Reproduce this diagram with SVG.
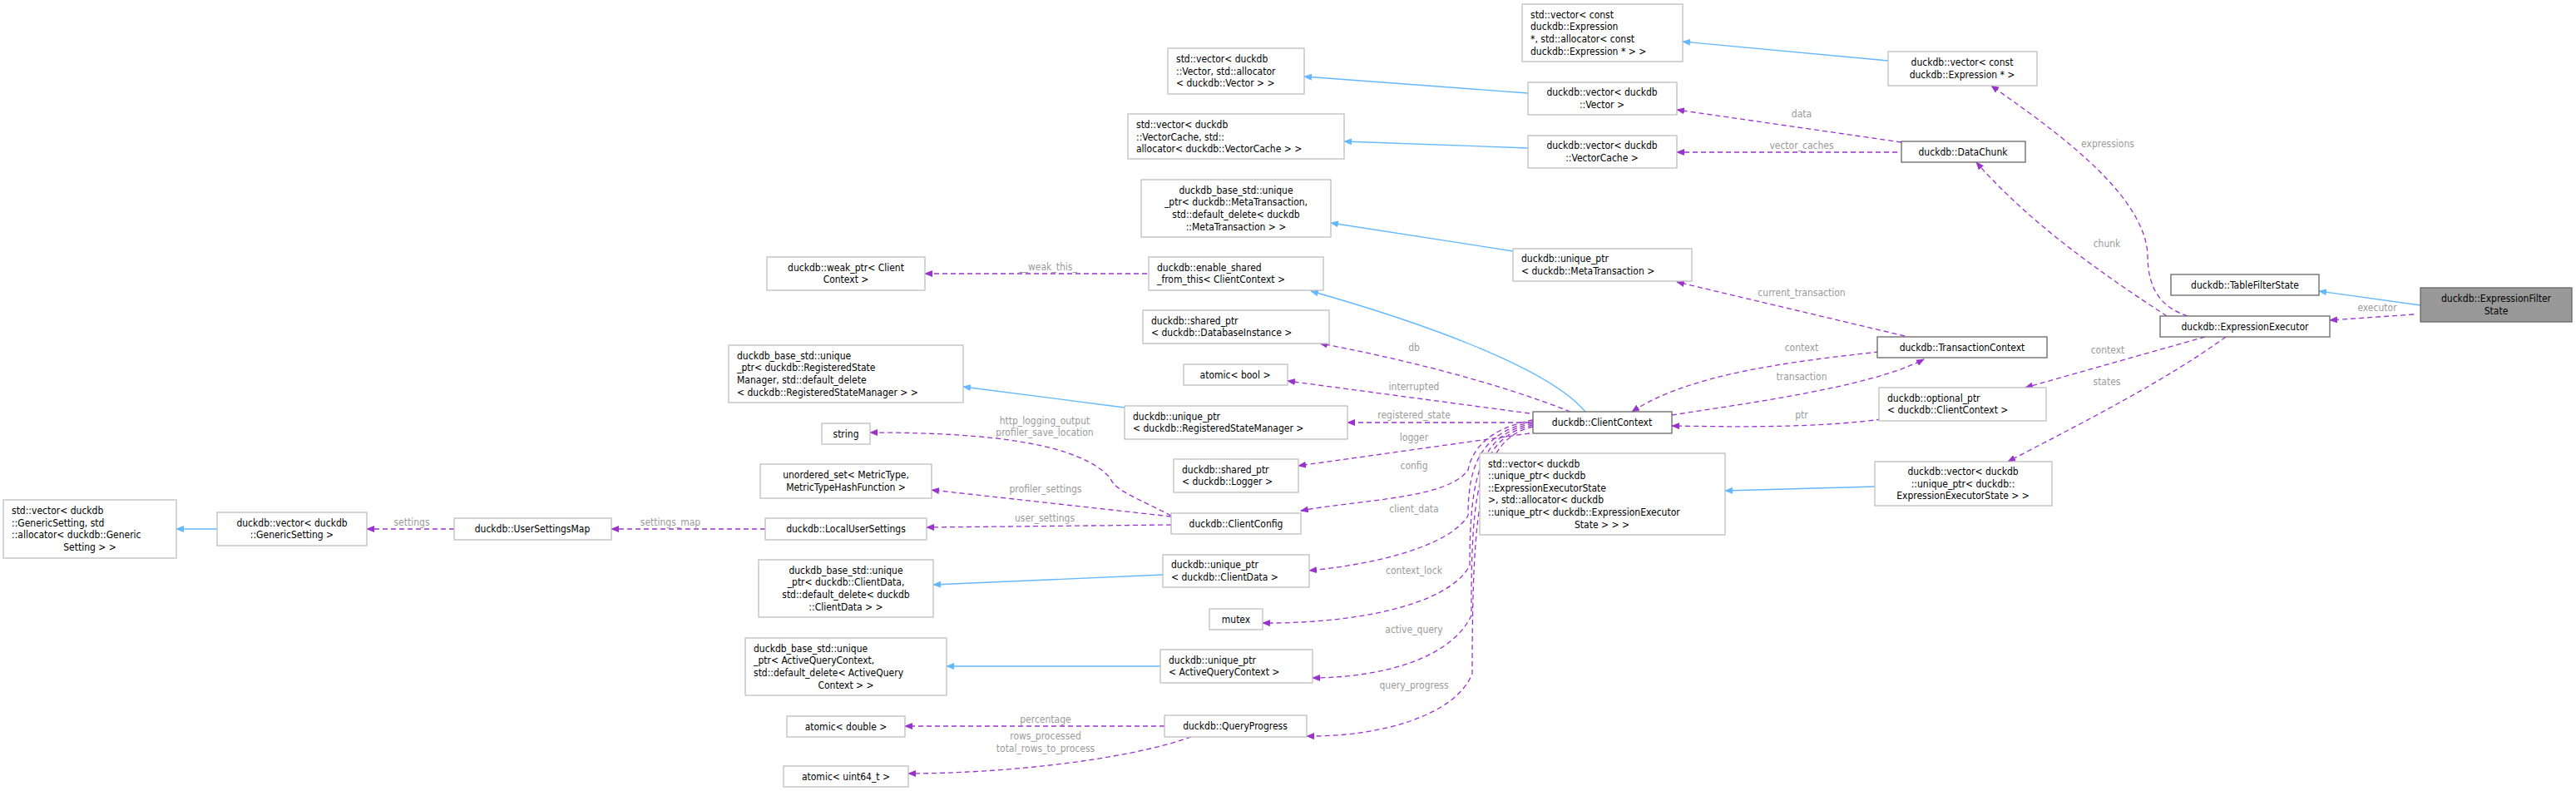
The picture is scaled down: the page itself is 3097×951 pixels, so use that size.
<svg xmlns="http://www.w3.org/2000/svg" width="3097" height="951" viewBox="0 0 3097 951">
<style>
.n rect{fill:#fff;stroke:#bfbfbf;stroke-width:1.3}
.n.d rect{stroke:#666}
.n.m rect{fill:#999;stroke:#666}
text{font-family:"DejaVu Sans Condensed","DejaVu Sans",sans-serif;font-size:12px;fill:#000}
.c{text-anchor:middle}
.e path{fill:none;stroke-width:1.3}
.i{stroke:#63b8ff}
.u{stroke:#9a32cd;stroke-dasharray:6,4}
.l{fill:#9a9a9a;text-anchor:middle}
</style>
<defs>
<marker id="ab" markerWidth="10" markerHeight="8" refX="9" refY="4" orient="auto" markerUnits="userSpaceOnUse"><path d="M0,0L10,4L0,8z" fill="#63b8ff"/></marker>
<marker id="ap" markerWidth="10" markerHeight="8" refX="9" refY="4" orient="auto" markerUnits="userSpaceOnUse"><path d="M0,0L10,4L0,8z" fill="#9a32cd"/></marker>
</defs>
<rect width="3097" height="951" fill="#fff"/>
<g class="e">
<path class="i" marker-end="url(#ab)" d="M2910,367L2788,350"/>
<path class="i" marker-end="url(#ab)" d="M2270,73L2023,50"/>
<path class="i" marker-end="url(#ab)" d="M1837,112L1568,92"/>
<path class="i" marker-end="url(#ab)" d="M1837,178L1616,170"/>
<path class="i" marker-end="url(#ab)" d="M1819,302L1600,268"/>
<path class="i" marker-end="url(#ab)" d="M1906,495C1860,440 1700,385 1576,350"/>
<path class="i" marker-end="url(#ab)" d="M1352,490L1158,465"/>
<path class="i" marker-end="url(#ab)" d="M1398,691L1122,703"/>
<path class="i" marker-end="url(#ab)" d="M1395,801L1138,801"/>
<path class="i" marker-end="url(#ab)" d="M2254,585L2074,590"/>
<path class="i" marker-end="url(#ab)" d="M261,636L212,636"/>
<path class="u" marker-end="url(#ap)" d="M2902,378L2801,385"/>
<path class="u" marker-end="url(#ap)" d="M2630,380C2600,370 2582,350 2582,306C2578,230 2460,150 2394,103"/>
<path class="u" marker-end="url(#ap)" d="M2605,380C2560,350 2450,280 2376,195"/>
<path class="u" marker-end="url(#ap)" d="M2651,405L2435,466"/>
<path class="u" marker-end="url(#ap)" d="M2676,405C2600,460 2500,510 2414,555"/>
<path class="u" marker-end="url(#ap)" d="M2286,171L2016,132"/>
<path class="u" marker-end="url(#ap)" d="M2281,183L2016,183"/>
<path class="u" marker-end="url(#ap)" d="M2290,404L2016,339"/>
<path class="u" marker-end="url(#ap)" d="M2259,423C2150,435 2030,450 1962,495"/>
<path class="u" marker-end="url(#ap)" d="M2010,499C2100,485 2250,465 2313,432"/>
<path class="u" marker-end="url(#ap)" d="M2262,504C2180,515 2080,513 2010,512"/>
<path class="u" marker-end="url(#ap)" d="M1379,329L1112,329"/>
<path class="u" marker-end="url(#ap)" d="M1888,495C1800,460 1680,430 1587,413"/>
<path class="u" marker-end="url(#ap)" d="M1839,497L1548,458"/>
<path class="u" marker-end="url(#ap)" d="M1839,508L1620,508"/>
<path class="u" marker-end="url(#ap)" d="M1839,521L1561,560"/>
<path class="u" marker-end="url(#ap)" d="M1843,505C1790,515 1770,540 1765,565C1740,600 1640,600 1564,614"/>
<path class="u" marker-end="url(#ap)" d="M1843,507C1780,520 1765,560 1765,620C1740,660 1640,680 1574,686"/>
<path class="u" marker-end="url(#ap)" d="M1843,509C1780,522 1767,570 1767,680C1740,730 1620,750 1518,749"/>
<path class="u" marker-end="url(#ap)" d="M1843,511C1780,525 1768,580 1769,740C1740,800 1640,815 1578,815"/>
<path class="u" marker-end="url(#ap)" d="M1843,513C1780,528 1770,600 1770,810C1750,860 1660,886 1571,885"/>
<path class="u" marker-end="url(#ap)" d="M1408,620C1370,600 1340,590 1335,575C1300,535 1200,520 1046,520"/>
<path class="u" marker-end="url(#ap)" d="M1408,621L1120,589"/>
<path class="u" marker-end="url(#ap)" d="M1408,631L1114,634"/>
<path class="u" marker-end="url(#ap)" d="M920,636L735,636"/>
<path class="u" marker-end="url(#ap)" d="M546,636L441,636"/>
<path class="u" marker-end="url(#ap)" d="M1400,873L1088,873"/>
<path class="u" marker-end="url(#ap)" d="M1432,886C1350,915 1200,930 1092,930"/>
<text class="l" x="2858" y="374">executor</text>
<text class="l" x="2534" y="177">expressions</text>
<text class="l" x="2533" y="297">chunk</text>
<text class="l" x="2534" y="425">context</text>
<text class="l" x="2533" y="463">states</text>
<text class="l" x="2166" y="141">data</text>
<text class="l" x="2166" y="179">vector_caches</text>
<text class="l" x="2166" y="356">current_transaction</text>
<text class="l" x="2166" y="422">context</text>
<text class="l" x="2166" y="457">transaction</text>
<text class="l" x="2166" y="503">ptr</text>
<text class="l" x="1260" y="325">__weak_this_</text>
<text class="l" x="1700" y="422">db</text>
<text class="l" x="1700" y="469">interrupted</text>
<text class="l" x="1700" y="503">registered_state</text>
<text class="l" x="1700" y="530">logger</text>
<text class="l" x="1700" y="564">config</text>
<text class="l" x="1700" y="616">client_data</text>
<text class="l" x="1700" y="690">context_lock</text>
<text class="l" x="1700" y="761">active_query</text>
<text class="l" x="1700" y="828">query_progress</text>
<text class="l" x="1256" y="510">http_logging_output</text>
<text class="l" x="1256" y="524">profiler_save_location</text>
<text class="l" x="1257" y="592">profiler_settings</text>
<text class="l" x="1256" y="627">user_settings</text>
<text class="l" x="806" y="632">settings_map</text>
<text class="l" x="495" y="632">settings</text>
<text class="l" x="1257" y="869">percentage</text>
<text class="l" x="1257" y="889">rows_processed</text>
<text class="l" x="1257" y="904">total_rows_to_process</text>
</g>
<g id="n1" class="n m"><rect x="2910" y="346" width="182" height="41"/><text class="c" x="3001" y="363">duckdb::ExpressionFilter</text><text class="c" x="3001" y="378">State</text></g>
<g id="n2" class="n d"><rect x="2610" y="330" width="178" height="25"/><text class="c" x="2699" y="347">duckdb::TableFilterState</text></g>
<g id="n3" class="n d"><rect x="2597" y="380" width="204" height="25"/><text class="c" x="2699" y="397">duckdb::ExpressionExecutor</text></g>
<g id="n4" class="n d"><rect x="2286" y="170" width="149" height="25"/><text class="c" x="2360" y="187">duckdb::DataChunk</text></g>
<g id="n5" class="n"><rect x="2270" y="62" width="179" height="41"/><text class="c" x="2359" y="79">duckdb::vector&lt; const</text><text class="c" x="2359" y="94">duckdb::Expression * &gt;</text></g>
<g id="n6" class="n"><rect x="1830" y="5" width="193" height="69"/><text x="1840" y="22">std::vector&lt; const</text><text x="1840" y="36">duckdb::Expression</text><text x="1840" y="51">*, std::allocator&lt; const</text><text x="1840" y="66">duckdb::Expression * &gt; &gt;</text></g>
<g id="n7" class="n"><rect x="1837" y="99" width="179" height="39"/><text class="c" x="1926" y="115">duckdb::vector&lt; duckdb</text><text class="c" x="1926" y="130">::Vector &gt;</text></g>
<g id="n8" class="n"><rect x="1837" y="163" width="179" height="39"/><text class="c" x="1926" y="179">duckdb::vector&lt; duckdb</text><text class="c" x="1926" y="194">::VectorCache &gt;</text></g>
<g id="n9" class="n"><rect x="1819" y="299" width="215" height="39"/><text x="1829" y="315">duckdb::unique_ptr</text><text x="1829" y="330">&lt; duckdb::MetaTransaction &gt;</text></g>
<g id="n10" class="n"><rect x="1404" y="58" width="164" height="55"/><text x="1414" y="75">std::vector&lt; duckdb</text><text x="1414" y="90">::Vector, std::allocator</text><text x="1414" y="104">&lt; duckdb::Vector &gt; &gt;</text></g>
<g id="n11" class="n"><rect x="1356" y="137" width="260" height="54"/><text x="1366" y="154">std::vector&lt; duckdb</text><text x="1366" y="169">::VectorCache, std::</text><text x="1366" y="183">allocator&lt; duckdb::VectorCache &gt; &gt;</text></g>
<g id="n12" class="n"><rect x="1372" y="216" width="228" height="69"/><text class="c" x="1486" y="233">duckdb_base_std::unique</text><text class="c" x="1486" y="247">_ptr&lt; duckdb::MetaTransaction,</text><text class="c" x="1486" y="262">std::default_delete&lt; duckdb</text><text class="c" x="1486" y="277">::MetaTransaction &gt; &gt;</text></g>
<g id="n13" class="n"><rect x="1381" y="309" width="210" height="40"/><text x="1391" y="326">duckdb::enable_shared</text><text x="1391" y="340">_from_this&lt; ClientContext &gt;</text></g>
<g id="n14" class="n"><rect x="922" y="309" width="190" height="40"/><text class="c" x="1017" y="326">duckdb::weak_ptr&lt; Client</text><text class="c" x="1017" y="340">Context &gt;</text></g>
<g id="n15" class="n"><rect x="1374" y="373" width="224" height="40"/><text x="1384" y="390">duckdb::shared_ptr</text><text x="1384" y="404">&lt; duckdb::DatabaseInstance &gt;</text></g>
<g id="n16" class="n"><rect x="1423" y="438" width="125" height="25"/><text class="c" x="1485" y="455">atomic&lt; bool &gt;</text></g>
<g id="n17" class="n"><rect x="876" y="415" width="282" height="69"/><text x="886" y="432">duckdb_base_std::unique</text><text x="886" y="446">_ptr&lt; duckdb::RegisteredState</text><text x="886" y="461">Manager, std::default_delete</text><text x="886" y="476">&lt; duckdb::RegisteredStateManager &gt; &gt;</text></g>
<g id="n18" class="n"><rect x="1352" y="488" width="268" height="40"/><text x="1362" y="505">duckdb::unique_ptr</text><text x="1362" y="519">&lt; duckdb::RegisteredStateManager &gt;</text></g>
<g id="n19" class="n"><rect x="988" y="509" width="58" height="25"/><text class="c" x="1017" y="526">string</text></g>
<g id="n20" class="n"><rect x="1411" y="552" width="150" height="40"/><text x="1421" y="569">duckdb::shared_ptr</text><text x="1421" y="583">&lt; duckdb::Logger &gt;</text></g>
<g id="n21" class="n"><rect x="914" y="558" width="206" height="41"/><text class="c" x="1017" y="575">unordered_set&lt; MetricType,</text><text class="c" x="1017" y="590">MetricTypeHashFunction &gt;</text></g>
<g id="n22" class="n"><rect x="920" y="623" width="194" height="26"/><text class="c" x="1017" y="640">duckdb::LocalUserSettings</text></g>
<g id="n23" class="n"><rect x="1408" y="617" width="156" height="25"/><text class="c" x="1486" y="634">duckdb::ClientConfig</text></g>
<g id="n24" class="n"><rect x="546" y="623" width="189" height="26"/><text class="c" x="640" y="640">duckdb::UserSettingsMap</text></g>
<g id="n25" class="n"><rect x="261" y="616" width="180" height="40"/><text class="c" x="351" y="633">duckdb::vector&lt; duckdb</text><text class="c" x="351" y="647">::GenericSetting &gt;</text></g>
<g id="n26" class="n"><rect x="4" y="601" width="208" height="70"/><text x="14" y="618">std::vector&lt; duckdb</text><text x="14" y="633">::GenericSetting, std</text><text x="14" y="647">::allocator&lt; duckdb::Generic</text><text class="c" x="108" y="662">Setting &gt; &gt;</text></g>
<g id="n27" class="n"><rect x="912" y="673" width="210" height="69"/><text class="c" x="1017" y="690">duckdb_base_std::unique</text><text class="c" x="1017" y="704">_ptr&lt; duckdb::ClientData,</text><text class="c" x="1017" y="719">std::default_delete&lt; duckdb</text><text class="c" x="1017" y="734">::ClientData &gt; &gt;</text></g>
<g id="n28" class="n"><rect x="1398" y="667" width="176" height="39"/><text x="1408" y="683">duckdb::unique_ptr</text><text x="1408" y="698">&lt; duckdb::ClientData &gt;</text></g>
<g id="n29" class="n"><rect x="1454" y="732" width="64" height="25"/><text class="c" x="1486" y="749">mutex</text></g>
<g id="n30" class="n"><rect x="896" y="767" width="242" height="69"/><text x="906" y="784">duckdb_base_std::unique</text><text x="906" y="798">_ptr&lt; ActiveQueryContext,</text><text x="906" y="813">std::default_delete&lt; ActiveQuery</text><text class="c" x="1017" y="828">Context &gt; &gt;</text></g>
<g id="n31" class="n"><rect x="1395" y="781" width="183" height="40"/><text x="1405" y="798">duckdb::unique_ptr</text><text x="1405" y="812">&lt; ActiveQueryContext &gt;</text></g>
<g id="n32" class="n"><rect x="946" y="861" width="142" height="25"/><text class="c" x="1017" y="878">atomic&lt; double &gt;</text></g>
<g id="n33" class="n"><rect x="1400" y="860" width="171" height="26"/><text class="c" x="1485" y="877">duckdb::QueryProgress</text></g>
<g id="n34" class="n"><rect x="942" y="921" width="150" height="25"/><text class="c" x="1017" y="938">atomic&lt; uint64_t &gt;</text></g>
<g id="n35" class="n d"><rect x="1843" y="495" width="167" height="26"/><text class="c" x="1926" y="512">duckdb::ClientContext</text></g>
<g id="n36" class="n"><rect x="1779" y="545" width="295" height="98"/><text x="1789" y="562">std::vector&lt; duckdb</text><text x="1789" y="576">::unique_ptr&lt; duckdb</text><text x="1789" y="591">::ExpressionExecutorState</text><text x="1789" y="605"> &gt;, std::allocator&lt; duckdb</text><text x="1789" y="620">::unique_ptr&lt; duckdb::ExpressionExecutor</text><text class="c" x="1926" y="635">State &gt; &gt; &gt;</text></g>
<g id="n37" class="n d"><rect x="2257" y="405" width="204" height="25"/><text class="c" x="2359" y="422">duckdb::TransactionContext</text></g>
<g id="n38" class="n"><rect x="2259" y="466" width="201" height="40"/><text x="2269" y="483">duckdb::optional_ptr</text><text x="2269" y="497">&lt; duckdb::ClientContext &gt;</text></g>
<g id="n39" class="n"><rect x="2254" y="555" width="213" height="53"/><text class="c" x="2360" y="571">duckdb::vector&lt; duckdb</text><text class="c" x="2360" y="586">::unique_ptr&lt; duckdb::</text><text class="c" x="2360" y="600">ExpressionExecutorState &gt; &gt;</text></g>
</svg>
